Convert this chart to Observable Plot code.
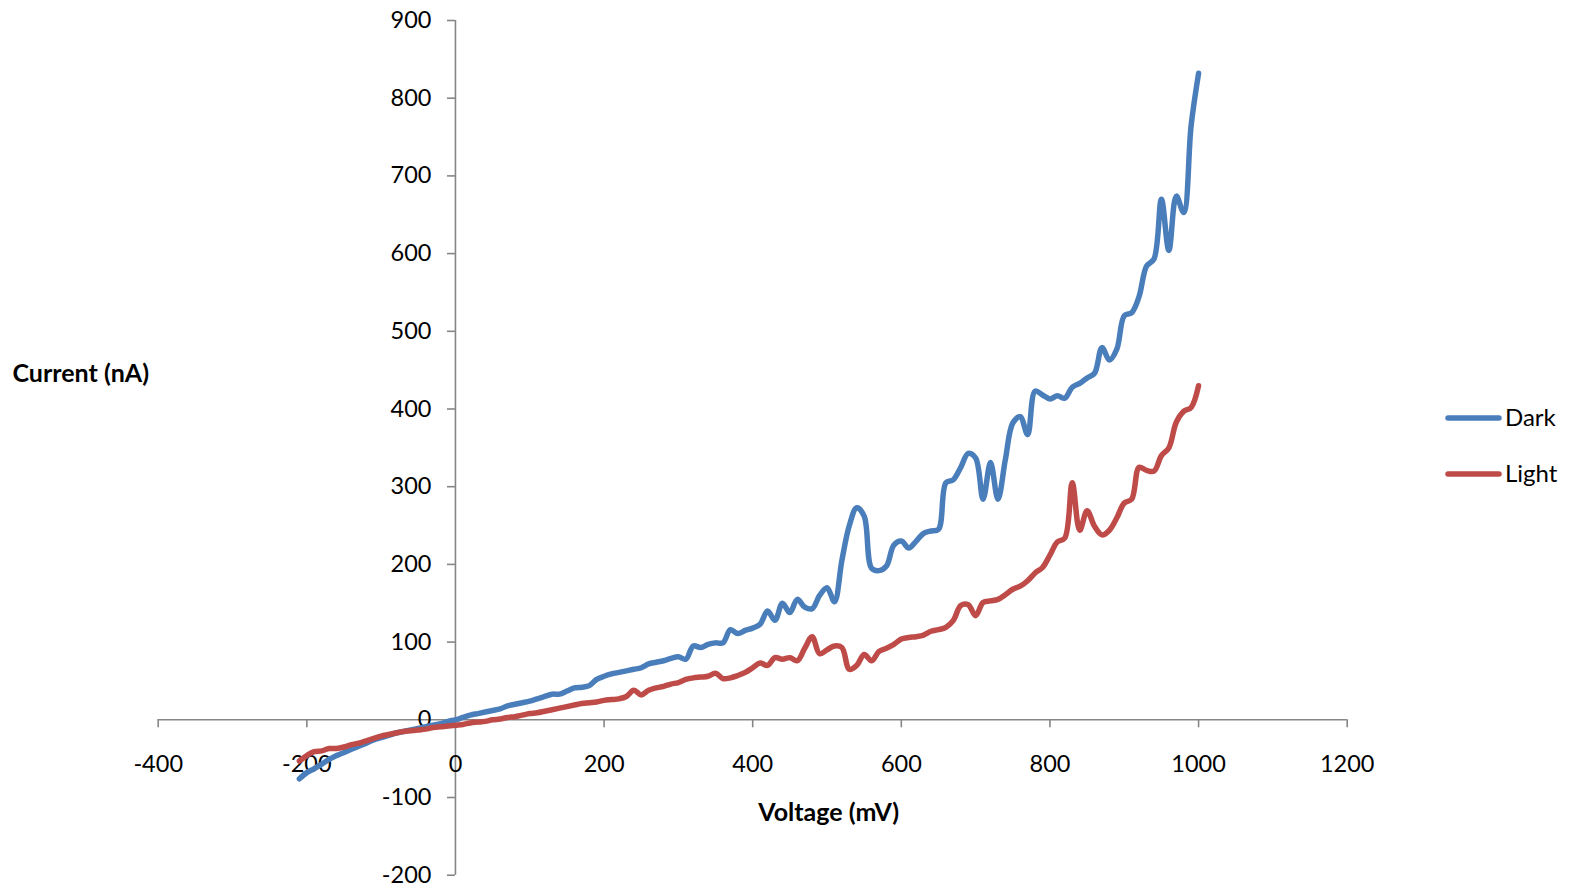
<!DOCTYPE html>
<html>
<head>
<meta charset="utf-8">
<script src="https://cdn.jsdelivr.net/npm/d3@7"></script>
<script src="https://cdn.jsdelivr.net/npm/@observablehq/plot@0.6"></script>
<style>
  html, body { margin: 0; padding: 0; background: white; }
  #chart { width: 1571px; height: 890px; }
</style>
</head>
<body>
<div id="chart"></div>
<script>
// Voltage sweep (mV)
const voltage = [
  -210,-200,-190,-180,-170,-160,-150,-140,-130,-120,-110,-100,-90,-80,-70,-60,-50,-40,-30,-20,-10,
  0,10,20,30,40,50,60,70,80,90,100,110,120,130,140,150,160,170,180,190,
  200,210,220,230,240,250,260,270,280,290,300,310,320,330,340,350,360,370,380,390,
  400,410,420,430,440,450,460,470,480,490,500,510,520,530,540,550,560,570,580,590,
  600,610,620,630,640,650,660,670,680,690,700,710,720,730,740,750,760,770,780,790,
  800,810,820,830,840,850,860,870,880,890,900,910,920,930,940,950,960,970,980,990,1000
];
// Current (nA), dark
const dark = [
  -76,-68,-63,-57,-51,-46,-42,-38,-34,-30,-26,-23,-20,-17,-15,-13,-11,-9,-7,-5,-2,
  0,3,6,8,10,12,14,18,20,22,24,27,30,33,33,37,41,42,44,52,
  56,59,61,63,65,67,72,74,76,79,81,78,95,93,97,99,99,116,111,115,
  118,123,140,128,150,138,155,145,143,160,170,152,205,250,273,262,195,192,198,225,
  230,221,230,240,243,245,305,309,325,343,337,284,331,284,335,382,390,367,423,418,
  413,417,414,428,433,440,446,479,463,477,520,524,545,584,593,670,604,674,653,765,832
];
// Current (nA), light
const light = [
  -53,-46,-41,-40,-37,-37,-35,-32,-30,-27,-24,-21,-19,-17,-15,-14,-13,-12,-10,-9,-8,
  -7,-6,-4,-3,-2,0,1,3,4,6,8,9,11,13,15,17,19,21,22,23,
  25,26,27,30,38,32,38,41,43,46,48,52,54,55,56,60,53,54,57,61,
  67,73,70,80,78,80,76,92,107,85,90,95,93,65,70,84,76,88,92,97,
  104,106,107,109,114,116,119,128,147,148,134,151,153,155,161,168,172,179,189,196,
  212,229,234,305,244,269,249,238,244,260,279,284,325,321,320,340,350,383,397,402,430
];
const xTicks = [-400,-200,0,200,400,600,800,1000,1200];
const yTicks = [-200,-100,0,100,200,300,400,500,600,700,800,900];
const seriesNames = ["Dark","Light"];
const seriesColors = ["#4A7EBB","#BE4B48"];

const darkData = voltage.map((v,i) => ({v, c: dark[i]}));
const lightData = voltage.map((v,i) => ({v, c: light[i]}));

const axisColor = "#868686";
const pxPerX = (1346.7 - 157.7) / 1600;
const pxPerY = (874.7 - 20) / 1100;
const tickLen = 8;
const font = "Lato, 'Open Sans', sans-serif";
const lineW = 5.5;

const chart = Plot.plot({
  width: 1571,
  height: 890,
  marginLeft: 157.7,
  marginRight: 224.3,
  marginTop: 20,
  marginBottom: 15.3,
  x: {domain: [-400, 1200], axis: null},
  y: {domain: [-200, 900], axis: null},
  style: {fontFamily: font, fontSize: "23.5px", background: "white", overflow: "visible"},
  marks: [
    Plot.ruleY([0], {x1: -400, x2: 1200, stroke: axisColor, strokeWidth: 1.6}),
    Plot.ruleX([0], {y1: -200, y2: 900, stroke: axisColor, strokeWidth: 1.6}),
    Plot.ruleX(xTicks, {x: d => d, y1: 0, y2: -tickLen / pxPerY, stroke: axisColor, strokeWidth: 1.6}),
    Plot.ruleY(yTicks, {y: d => d, x1: 0, x2: -tickLen / pxPerX, stroke: axisColor, strokeWidth: 1.6}),
    Plot.text(xTicks, {x: d => d, y: 0, dy: 44.5, text: d => String(d), fill: "black", fontSize: 23.5}),
    Plot.text(yTicks, {x: 0, y: d => d, dx: -24, textAnchor: "end", text: d => String(d), fill: "black", fontSize: 23.5}),
    Plot.text(["Current (nA)"], {frameAnchor: "left", lineAnchor: "middle", dx: -145.7, dy: -74, textAnchor: "start", text: d => d, fontWeight: "bold", fontSize: 25, fill: "black"}),
    Plot.text(["Voltage (mV)"], {frameAnchor: "bottom", lineAnchor: "middle", dx: 76, dy: -62.5, text: d => d, fontWeight: "bold", fontSize: 25, fill: "black"}),
    Plot.line(darkData, {x: "v", y: "c", stroke: seriesColors[0], strokeWidth: lineW, curve: "catmull-rom", strokeLinejoin: "round", strokeLinecap: "round"}),
    Plot.line(lightData, {x: "v", y: "c", stroke: seriesColors[1], strokeWidth: lineW, curve: "catmull-rom", strokeLinejoin: "round", strokeLinecap: "round"})
  ]
});

// Legend (right side)
const svg = d3.select(chart);
const legendY = [418, 474];
seriesNames.forEach((name, i) => {
  const g = svg.append("g");
  g.append("line")
    .attr("x1", 1448).attr("x2", 1499)
    .attr("y1", legendY[i]).attr("y2", legendY[i])
    .attr("stroke", seriesColors[i]).attr("stroke-width", lineW)
    .attr("stroke-linecap", "round");
  g.append("text")
    .attr("x", 1505).attr("y", legendY[i])
    .attr("dy", "0.35em")
    .attr("text-anchor", "start")
    .attr("fill", "black")
    .attr("font-family", font)
    .attr("font-size", 24)
    .text(name);
});

document.getElementById("chart").appendChild(chart);
</script>
</body>
</html>
